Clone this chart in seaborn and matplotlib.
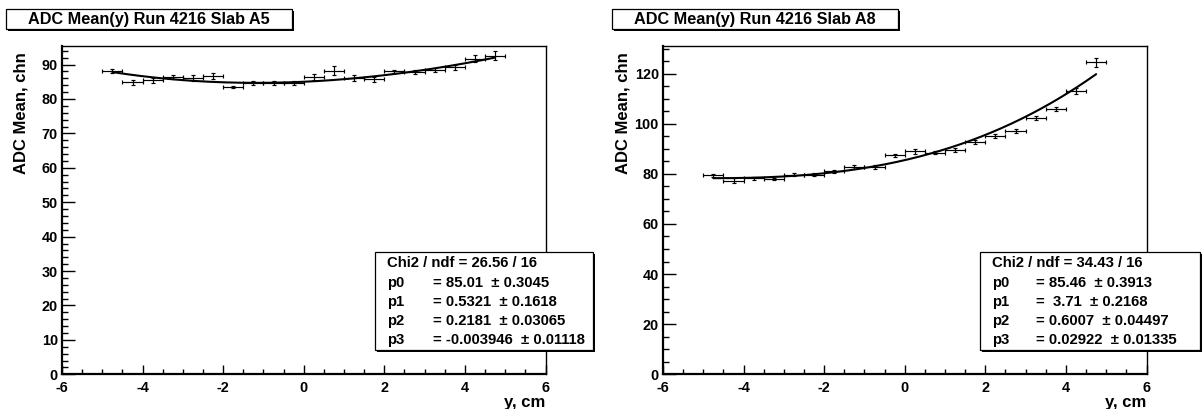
import numpy as np
import pandas as pd
import seaborn as sns
import matplotlib
matplotlib.use("Agg")
import matplotlib.pyplot as plt
from matplotlib.patches import Rectangle
from matplotlib.ticker import MultipleLocator

# ---------------- data ----------------
y_bins = [-4.75, -4.25, -3.75, -3.25, -2.75, -2.25, -1.75, -1.25, -0.75, -0.25,
          0.25, 0.75, 1.25, 1.75, 2.25, 2.75, 3.25, 3.75, 4.25, 4.75]
bin_half_width = [0.25] * 20

a5_mean = [88.1, 84.8, 85.4, 86.4, 86.2, 86.6, 83.5, 84.6, 84.7, 84.6,
           86.3, 88.2, 86.0, 85.7, 88.0, 87.9, 88.4, 89.2, 91.7, 92.6]
a5_err = [0.5, 0.6, 0.7, 0.5, 0.9, 0.9, 0.4, 0.5, 0.6, 0.6,
          0.9, 1.3, 0.9, 0.8, 0.5, 0.6, 0.5, 0.8, 1.0, 1.4]

a8_mean = [79.4, 77.3, 78.2, 77.9, 79.7, 79.7, 81.0, 82.8, 82.8, 87.4,
           89.0, 88.5, 89.6, 92.8, 95.1, 97.1, 102.3, 105.9, 113.2, 124.5]
a8_err = [0.6, 1.0, 0.5, 0.5, 0.5, 0.5, 0.6, 0.7, 0.8, 0.7,
          0.9, 0.6, 0.8, 0.8, 0.8, 0.8, 0.7, 0.7, 1.2, 1.8]

a5_params = [85.01, 0.5321, 0.2181, -0.003946]
a8_params = [85.46, 3.71, 0.6007, 0.02922]
fit_range = [-4.75, 4.75]

titles = ["ADC Mean(y) Run 4216 Slab A5", "ADC Mean(y) Run 4216 Slab A8"]
a5_stats = [("Chi2 / ndf = 26.56 / 16", ""),
            ("p0", "= 85.01  \u00b1 0.3045"),
            ("p1", "= 0.5321  \u00b1 0.1618"),
            ("p2", "= 0.2181  \u00b1 0.03065"),
            ("p3", "= -0.003946  \u00b1 0.01118")]
a8_stats = [("Chi2 / ndf = 34.43 / 16", ""),
            ("p0", "= 85.46  \u00b1 0.3913"),
            ("p1", "=  3.71  \u00b1 0.2168"),
            ("p2", "= 0.6007  \u00b1 0.04497"),
            ("p3", "= 0.02922  \u00b1 0.01335")]

# ---------------- style ----------------
sns.set_theme(style="ticks")
plt.rcParams["font.family"] = ["Liberation Sans", "DejaVu Sans"]
plt.rcParams["font.weight"] = "bold"
plt.rcParams["axes.labelweight"] = "bold"
plt.rcParams["axes.unicode_minus"] = False

W, H = 1202, 409
fig = plt.figure(figsize=(W / 100, H / 100), dpi=100)
fig.patch.set_facecolor("white")


def fx(px):
    return px / W


def fy(py):
    return 1 - py / H


def box(x0, y0, x1, y1, shadow=2):
    fig.add_artist(Rectangle((fx(x0 + shadow), fy(y1 + shadow)), fx(x1 - x0), (y1 - y0) / H,
                             transform=fig.transFigure, facecolor="black", edgecolor="black",
                             lw=0, zorder=10))
    fig.add_artist(Rectangle((fx(x0), fy(y1)), fx(x1 - x0), (y1 - y0) / H,
                             transform=fig.transFigure, facecolor="white", edgecolor="black",
                             lw=0.9, zorder=11))


def panel(offset, mean, err, params, ymax, ymajor, yminor, title, stats, sbox, col2):
    ax_l, ax_r, ax_t, ax_b = 62 + offset, 545.5 + offset, 46, 374.3
    ax = fig.add_axes([fx(ax_l), fy(ax_b), fx(ax_r - ax_l), (ax_b - ax_t) / H])
    ax.set_facecolor("white")

    ax.errorbar(y_bins, mean, xerr=bin_half_width, yerr=err, fmt="none",
                ecolor="black", elinewidth=0.85, capsize=1.6, capthick=0.85, zorder=3)

    xs = np.linspace(fit_range[0], fit_range[1], 300)
    ys = params[0] + params[1] * xs + params[2] * xs ** 2 + params[3] * xs ** 3
    sns.lineplot(x=xs, y=ys, ax=ax, color="black", lw=1.5, zorder=4)

    ax.set_xlim(-6, 6)
    ax.set_ylim(0, ymax)
    ax.xaxis.set_major_locator(MultipleLocator(2))
    ax.xaxis.set_minor_locator(MultipleLocator(0.5))
    ax.yaxis.set_major_locator(MultipleLocator(ymajor))
    ax.yaxis.set_minor_locator(MultipleLocator(yminor))
    ax.tick_params(axis="both", which="both", direction="in", top=False, right=False,
                   colors="black", labelsize=10.4, width=1.0)
    ax.tick_params(axis="x", which="major", length=6.5, pad=5.0)
    ax.tick_params(axis="x", which="minor", length=3.3)
    ax.tick_params(axis="y", which="major", length=9.0, pad=3.0)
    ax.tick_params(axis="y", which="minor", length=4.5)
    for lab in ax.get_xticklabels() + ax.get_yticklabels():
        lab.set_fontweight("bold")
    for s in ax.spines.values():
        s.set_color("black")
        s.set_linewidth(1.0)
        s.set_visible(True)
    ax.spines["bottom"].set_linewidth(1.6)
    ax.spines["left"].set_linewidth(1.6)

    ax.set_ylabel("ADC Mean, chn", loc="top", fontsize=12, fontweight="bold", color="black")
    ax.yaxis.set_label_coords((29 - 62) / (ax_r - ax_l), 0.98)
    ax.set_xlabel("y, cm", loc="right", fontsize=12, fontweight="bold", color="black")
    ax.xaxis.set_label_coords(1.0, -(395 - ax_b) / (ax_b - ax_t))

    # title box
    tx0, tx1 = 6 + offset * 1.0085, 292 + offset * 1.0085
    box(tx0, 9, tx1, 29)
    fig.text(fx((tx0 + tx1) / 2), fy(19.5), title, ha="center", va="center",
             fontsize=11.7, fontweight="bold", color="black", zorder=12)

    # stats box
    sx0, sy0, sx1, sy1 = sbox
    box(sx0, sy0, sx1, sy1)
    line_y = [263, 283, 302, 321, 340]
    for (name, val), ly in zip(stats, line_y):
        fig.text(fx(sx0 + 12), fy(ly), name, ha="left", va="center", fontsize=10.7,
                 fontweight="bold", color="black", zorder=12)
        if val:
            fig.text(fx(sx0 + col2), fy(ly), val, ha="left", va="center", fontsize=10.7,
                     fontweight="bold", color="black", zorder=12)
    return ax


panel(0, a5_mean, a5_err, a5_params, 95.4, 10, 2, titles[0], a5_stats, (375, 252, 593, 350), 58)
panel(601, a8_mean, a8_err, a8_params, 131.0, 20, 5, titles[1], a8_stats, (980, 252, 1200, 350), 56)

fig.savefig("out.png", dpi=100, facecolor="white")
